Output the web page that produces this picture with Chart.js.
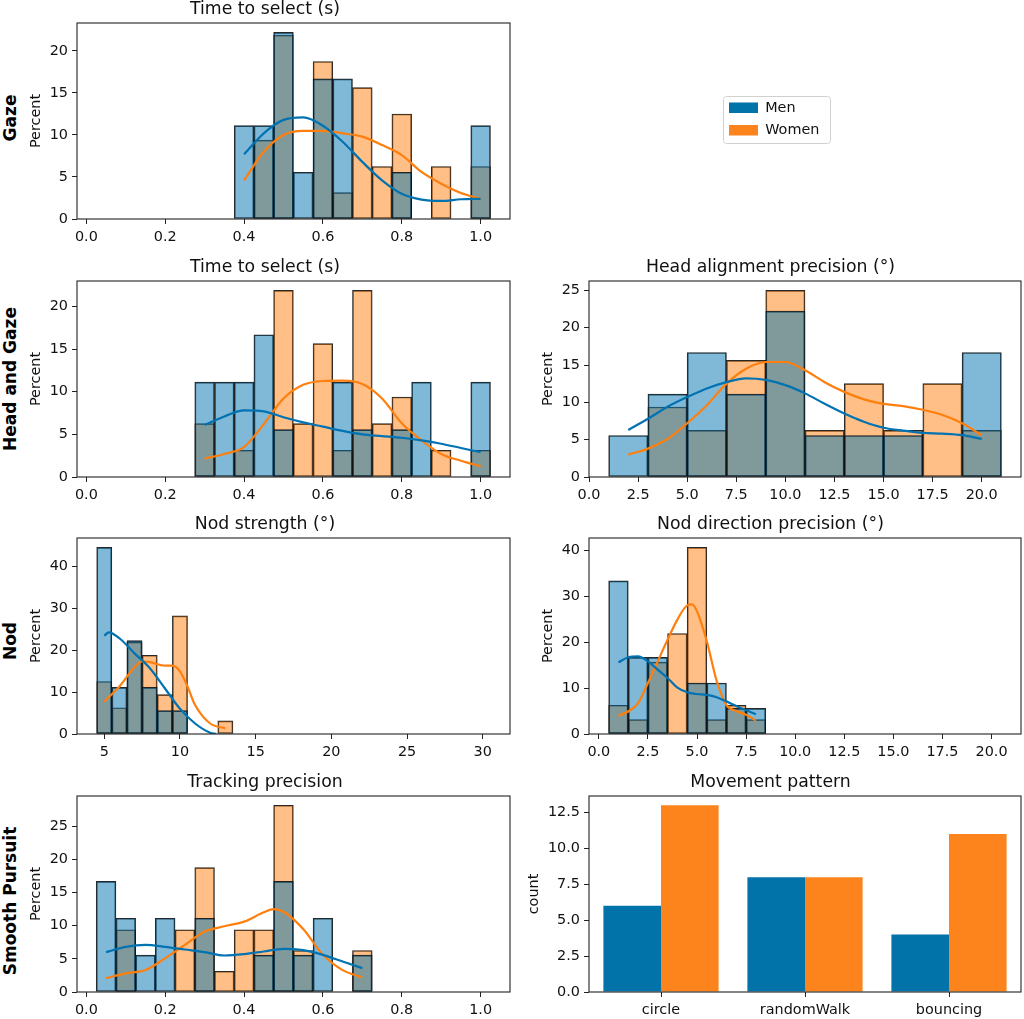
<!DOCTYPE html>
<html>
<head>
<meta charset="utf-8">
<script src="https://cdn.jsdelivr.net/npm/chart.js@4.4.0/dist/chart.umd.min.js"></script>
<style>
  html, body { margin:0; padding:0; background:#fff; width:1024px; height:1019px; overflow:hidden; }
  .box { position:absolute; }
  .rowlab { position:absolute; font: bold 17px "DejaVu Sans", sans-serif; color:#000; white-space:nowrap;
            transform: translate(-50%, -50%) rotate(-90deg); }
</style>
</head>
<body>
<div class="box" id="b_gaze"><canvas id="c_gaze"></canvas></div>
<div class="box" id="b_legend"><canvas id="c_legend"></canvas></div>
<div class="box" id="b_hgTime"><canvas id="c_hgTime"></canvas></div>
<div class="box" id="b_hgAlign"><canvas id="c_hgAlign"></canvas></div>
<div class="box" id="b_nodStr"><canvas id="c_nodStr"></canvas></div>
<div class="box" id="b_nodDir"><canvas id="c_nodDir"></canvas></div>
<div class="box" id="b_track"><canvas id="c_track"></canvas></div>
<div class="box" id="b_move"><canvas id="c_move"></canvas></div>

<script>
// ---------------- DATA ----------------
const seriesNames = ['Men', 'Women'];
const rowLabels = ['Gaze', 'Head and Gaze', 'Nod', 'Smooth Pursuit'];

// Gaze – Time to select (s)
const gazeTimeBins  = [0.40,0.45,0.50,0.55,0.60,0.65,0.70,0.75,0.80,0.85,0.90,0.95,1.00];
const gazeTimeMen   = [11.11,11.11,22.22,5.56,16.67,16.67,0,0,5.56,0,0,0,11.11];
const gazeTimeWomen = [0,9.38,21.88,0,18.75,3.13,15.63,6.25,12.5,0,6.25,0,6.25];
const gazeKdeX      = [0.40,0.45,0.50,0.55,0.60,0.65,0.70,0.75,0.80,0.85,0.90,0.95,1.00];
const gazeKdeMen    = [7.7,10.2,11.8,12.1,11.1,9.2,6.8,4.6,3.0,2.3,2.15,2.35,2.4];
const gazeKdeWomen  = [4.6,8.0,10.0,10.5,10.5,10.2,9.8,8.8,7.6,5.6,4.2,3.1,2.4];

// Head and Gaze – Time to select (s)
const hgTimeBins  = [0.30,0.35,0.40,0.45,0.50,0.55,0.60,0.65,0.70,0.75,0.80,0.85,0.90,0.95,1.00];
const hgTimeMen   = [11.11,11.11,11.11,16.67,5.56,0,0,11.11,5.56,0,5.56,11.11,0,0,11.11];
const hgTimeWomen = [6.25,0,3.13,0,21.88,6.25,15.63,3.13,21.88,6.25,9.38,0,3.13,0,3.13];
const hgKdeX      = [0.30,0.35,0.40,0.45,0.50,0.55,0.60,0.65,0.70,0.75,0.80,0.85,0.90,0.95,1.00];
const hgKdeMen    = [6.1,7.1,7.8,7.7,7.0,6.4,5.9,5.4,5.0,4.8,4.6,4.3,3.9,3.4,2.9];
const hgKdeWomen  = [2.15,2.7,3.5,6.2,9.2,10.8,11.25,11.3,10.9,9.2,6.3,4.3,2.7,1.9,1.25];

// Head and Gaze – Head alignment precision (°)
const alignBins  = [2,4,6,8,10,12,14,16,18,20];
const alignMen   = [5.56,11.11,16.67,11.11,22.22,5.56,5.56,5.56,0,16.67];
const alignWomen = [0,9.38,6.25,15.63,25,6.25,12.5,6.25,12.5,6.25];
const alignKdeX     = [2,3,4,5,6,7,8,9,10,11,12,13,14,15,16,17,18,19,20];
const alignKdeMen   = [6.3,7.8,9.4,10.7,11.85,12.7,13.2,13.0,12.3,11.2,9.8,8.5,7.4,6.6,6.2,5.9,5.8,5.6,5.1];
const alignKdeWomen = [3.0,3.8,5.1,7.2,9.6,12.5,14.5,15.4,15.4,14.3,12.7,11.4,10.4,9.8,9.5,9.0,8.3,7.2,5.6];

// Nod – Nod strength (°)
const nodStrBins  = [5,6,7,8,9,10,11,12,13];
const nodStrMen   = [44.44,11.11,22.22,11.11,5.56,5.56,0,0,0];
const nodStrWomen = [12.5,6.25,21.88,18.75,9.38,28.13,0,0,3.13];
const nodStrKdeMenX   = [5,5.3,6,7,8,9,10,11,12,12.4];
const nodStrKdeMen    = [23.4,24.2,22.8,19.2,15.7,10.9,6.0,2.5,0.3,0.05];
const nodStrKdeWomenX = [5,6,7,7.5,8,9,9.5,10,10.5,11,12,13];
const nodStrKdeWomen  = [7.7,11.3,15.9,17.3,17.1,16.3,16.3,14.9,11.3,6.9,2.5,1.35];

// Nod – Nod direction precision (°)
const nodDirBins  = [1,2,3,4,5,6,7,8];
const nodDirMen   = [33.33,16.67,16.67,0,11.11,11.11,5.56,5.56];
const nodDirWomen = [6.25,3.13,15.63,21.88,40.63,3.13,6.25,3.13];
const nodDirKdeMenX   = [1,1.5,2,2.5,3,3.5,4,4.5,5,5.5,6,6.5,7,7.5,8];
const nodDirKdeMen    = [15.6,16.7,16.9,15.8,14.0,12.2,10.1,9.1,8.7,8.5,8.0,7.1,6.1,5.2,4.3];
const nodDirKdeWomenX = [1,1.5,2,2.5,3,3.5,4,4.5,4.75,5,5.5,6,6.5,7,7.5,8];
const nodDirKdeWomen  = [4.0,4.9,6.7,11.1,15.8,20.5,24.9,28.0,28.2,26.7,20.2,11.6,6.3,5.0,4.2,2.9];

// Smooth Pursuit – Tracking precision
const trackBins  = [0.05,0.10,0.15,0.20,0.25,0.30,0.35,0.40,0.45,0.50,0.55,0.60,0.65,0.70];
const trackMen   = [16.67,11.11,5.56,11.11,0,11.11,0,0,5.56,16.67,5.56,11.11,0,5.56];
const trackWomen = [0,9.38,0,0,9.38,18.75,3.13,9.38,9.38,28.13,6.25,0,0,6.25];
const trackKdeMenX   = [0.05,0.10,0.15,0.20,0.25,0.30,0.35,0.40,0.45,0.50,0.55,0.60,0.65,0.70];
const trackKdeMen    = [6.0,6.8,7.1,6.8,6.4,6.0,5.5,5.7,6.1,6.5,6.3,5.6,4.6,3.6];
const trackKdeWomenX = [0.05,0.10,0.15,0.20,0.25,0.30,0.35,0.40,0.45,0.475,0.50,0.55,0.60,0.65,0.70];
const trackKdeWomen  = [2.1,2.8,3.3,5.1,7.1,9.1,9.9,10.6,12.0,12.5,12.1,9.5,5.6,3.3,2.2];

// Smooth Pursuit – Movement pattern (count)
const movementCategories = ['circle', 'randomWalk', 'bouncing'];
const movementMen   = [6, 8, 4];
const movementWomen = [13, 8, 11];

// Tick labels
const unitTicks   = [0, 0.2, 0.4, 0.6, 0.8, 1.0];
const unitLabels  = ['0.0', '0.2', '0.4', '0.6', '0.8', '1.0'];
const degTicks    = [0, 2.5, 5, 7.5, 10, 12.5, 15, 17.5, 20];
const degLabels   = ['0.0', '2.5', '5.0', '7.5', '10.0', '12.5', '15.0', '17.5', '20.0'];
const strTicks    = [5, 10, 15, 20, 25, 30];
const strLabels   = ['5', '10', '15', '20', '25', '30'];
const pct5Ticks   = [0, 5, 10, 15, 20];
const pct5Labels  = ['0', '5', '10', '15', '20'];
const pct25Ticks  = [0, 5, 10, 15, 20, 25];
const pct25Labels = ['0', '5', '10', '15', '20', '25'];
const pct40Ticks  = [0, 10, 20, 30, 40];
const pct40Labels = ['0', '10', '20', '30', '40'];
const countTicks  = [0, 2.5, 5, 7.5, 10, 12.5];
const countLabels = ['0.0', '2.5', '5.0', '7.5', '10.0', '12.5'];

// ---------------- STYLE / LAYOUT ----------------
const FONT = '"DejaVu Sans", sans-serif';
Chart.defaults.font.family = FONT;
Chart.defaults.color = '#111';
Chart.defaults.animation = false;

const TICK_SIZE = 14.4, TITLE_SIZE = 17.3;
const LINE_BLUE = '#0173b2', LINE_ORANGE = '#ff7f0e';
const FILL_BLUE = 'rgba(1,115,178,0.5)', FILL_ORANGE = 'rgba(255,127,14,0.5)';
const BAR_BLUE = '#0173a8', BAR_ORANGE = '#fd841c';
const EDGE = 'rgba(15,15,15,0.9)';

const ROW_TOPS = [23, 281, 538, 796];
const PLOT_H = 196, TITLE_BLOCK = 24, XAXIS_H = 27;
const COLS = [
  { left: 20,  width: 498, yW: 57, padR: 8 },
  { left: 520, width: 504, yW: 69, padR: 3 }
];

const framePlugin = {
  id: 'frame',
  afterDraw(chart) {
    const a = chart.chartArea, ctx = chart.ctx;
    ctx.save();
    ctx.strokeStyle = '#222';
    ctx.lineWidth = 1.1;
    ctx.strokeRect(a.left, a.top, a.right - a.left, a.bottom - a.top);
    ctx.restore();
  }
};

function place(boxId, col, row) {
  const c = COLS[col];
  const b = document.getElementById(boxId);
  b.style.left = c.left + 'px';
  b.style.top = (ROW_TOPS[row] - TITLE_BLOCK) + 'px';
  b.style.width = c.width + 'px';
  b.style.height = (TITLE_BLOCK + PLOT_H + XAXIS_H) + 'px';
}

function zip(xs, ys) { return xs.map((x, i) => ({ x: x, y: ys[i] })); }
function setTicks(values) { return axis => { axis.ticks = values.map(v => ({ value: v })); }; }

function commonAxis(extra) {
  return Object.assign({
    grid: { drawOnChartArea: false, drawTicks: true, tickLength: 5, color: '#222', lineWidth: 1 },
    border: { display: false }
  }, extra);
}

function baseOptions(title, col, yTitle, yTitleCenter, xScale, yScale) {
  const c = COLS[col];
  const yTitlePad = yTitleCenter - TICK_SIZE * 1.2 / 2;
  return {
    responsive: true,
    maintainAspectRatio: false,
    animation: false,
    layout: { padding: { left: 0, right: c.padR, top: 0, bottom: 0 } },
    plugins: {
      legend: { display: false },
      tooltip: { enabled: false },
      title: { display: true, text: title, color: '#111',
               font: { size: TITLE_SIZE, weight: 'normal', family: FONT },
               padding: { top: 0, bottom: TITLE_BLOCK - TITLE_SIZE * 1.2 } }
    },
    scales: {
      x: Object.assign(xScale, { afterFit: s => { s.height = XAXIS_H; } }),
      y: Object.assign(yScale, {
        afterFit: s => { s.width = c.yW; },
        title: { display: true, text: yTitle, color: '#111', font: { size: TICK_SIZE, family: FONT },
                 padding: { top: yTitlePad, bottom: 0 } }
      })
    }
  };
}

function histogram(p) {
  place('b_' + p.id, p.col, p.row);
  const xScale = commonAxis({
    type: 'linear', min: p.xMin, max: p.xMax, offset: false,
    afterBuildTicks: setTicks(p.xTicks),
    ticks: { autoSkip: false, maxRotation: 0, minRotation: 0, padding: 5, font: { size: TICK_SIZE },
             callback: (v, i) => p.xLabels[i] }
  });
  xScale.grid.offset = false;
  const yScale = commonAxis({
    type: 'linear', min: 0, max: p.yMax,
    afterBuildTicks: setTicks(p.yTicks),
    ticks: { autoSkip: false, padding: 4, font: { size: TICK_SIZE }, callback: (v, i) => p.yLabels[i] }
  });
  const barCommon = { grouped: false, barPercentage: 1, categoryPercentage: 1,
                      borderColor: EDGE, borderWidth: 1, borderSkipped: false };
  new Chart(document.getElementById('c_' + p.id), {
    type: 'bar',
    data: {
      datasets: [
        { type: 'line', label: seriesNames[0] + ' KDE', data: zip(p.kmx, p.kmy), borderColor: LINE_BLUE,
          borderWidth: 2.2, pointRadius: 0, cubicInterpolationMode: 'monotone', fill: false, order: 0 },
        { type: 'line', label: seriesNames[1] + ' KDE', data: zip(p.kwx, p.kwy), borderColor: LINE_ORANGE,
          borderWidth: 2.2, pointRadius: 0, cubicInterpolationMode: 'monotone', fill: false, order: 0 },
        Object.assign({ label: seriesNames[0], data: zip(p.bins, p.men), backgroundColor: FILL_BLUE, order: 1 }, barCommon),
        Object.assign({ label: seriesNames[1], data: zip(p.bins, p.women), backgroundColor: FILL_ORANGE, order: 2 }, barCommon)
      ]
    },
    options: baseOptions(p.title, p.col, 'Percent', p.yTitleCenter, xScale, yScale),
    plugins: [framePlugin]
  });
}

histogram({ id: 'gaze', col: 0, row: 0, title: 'Time to select (s)', yTitleCenter: 16,
  bins: gazeTimeBins, men: gazeTimeMen, women: gazeTimeWomen,
  kmx: gazeKdeX, kmy: gazeKdeMen, kwx: gazeKdeX, kwy: gazeKdeWomen,
  xMin: -0.0237, xMax: 1.0745, xTicks: unitTicks, xLabels: unitLabels,
  yMax: 23.33, yTicks: pct5Ticks, yLabels: pct5Labels });

histogram({ id: 'hgTime', col: 0, row: 1, title: 'Time to select (s)', yTitleCenter: 16,
  bins: hgTimeBins, men: hgTimeMen, women: hgTimeWomen,
  kmx: hgKdeX, kmy: hgKdeMen, kwx: hgKdeX, kwy: hgKdeWomen,
  xMin: -0.0237, xMax: 1.0745, xTicks: unitTicks, xLabels: unitLabels,
  yMax: 22.97, yTicks: pct5Ticks, yLabels: pct5Labels });

histogram({ id: 'hgAlign', col: 1, row: 1, title: 'Head alignment precision (°)', yTitleCenter: 28.3,
  bins: alignBins, men: alignMen, women: alignWomen,
  kmx: alignKdeX, kmy: alignKdeMen, kwx: alignKdeX, kwy: alignKdeWomen,
  xMin: 0, xMax: 22, xTicks: degTicks, xLabels: degLabels,
  yMax: 26.25, yTicks: pct25Ticks, yLabels: pct25Labels });

histogram({ id: 'nodStr', col: 0, row: 2, title: 'Nod strength (°)', yTitleCenter: 16,
  bins: nodStrBins, men: nodStrMen, women: nodStrWomen,
  kmx: nodStrKdeMenX, kmy: nodStrKdeMen, kwx: nodStrKdeWomenX, kwy: nodStrKdeWomen,
  xMin: 3.2, xMax: 31.8, xTicks: strTicks, xLabels: strLabels,
  yMax: 46.67, yTicks: pct40Ticks, yLabels: pct40Labels });

histogram({ id: 'nodDir', col: 1, row: 2, title: 'Nod direction precision (°)', yTitleCenter: 28.3,
  bins: nodDirBins, men: nodDirMen, women: nodDirWomen,
  kmx: nodDirKdeMenX, kmy: nodDirKdeMen, kwx: nodDirKdeWomenX, kwy: nodDirKdeWomen,
  xMin: -0.5, xMax: 21.5, xTicks: degTicks, xLabels: degLabels,
  yMax: 42.66, yTicks: pct40Ticks, yLabels: pct40Labels });

histogram({ id: 'track', col: 0, row: 3, title: 'Tracking precision', yTitleCenter: 16,
  bins: trackBins, men: trackMen, women: trackWomen,
  kmx: trackKdeMenX, kmy: trackKdeMen, kwx: trackKdeWomenX, kwy: trackKdeWomen,
  xMin: -0.0237, xMax: 1.0745, xTicks: unitTicks, xLabels: unitLabels,
  yMax: 29.53, yTicks: pct25Ticks, yLabels: pct25Labels });

// Movement pattern bar chart
(function () {
  place('b_move', 1, 3);
  const xScale = commonAxis({
    type: 'category', offset: true,
    ticks: { autoSkip: false, maxRotation: 0, minRotation: 0, padding: 5, font: { size: TICK_SIZE } }
  });
  xScale.grid.offset = false;
  const yScale = commonAxis({
    type: 'linear', min: 0, max: 13.65,
    afterBuildTicks: setTicks(countTicks),
    ticks: { autoSkip: false, padding: 4, font: { size: TICK_SIZE }, callback: (v, i) => countLabels[i] }
  });
  new Chart(document.getElementById('c_move'), {
    type: 'bar',
    data: {
      labels: movementCategories,
      datasets: [
        { label: seriesNames[0], data: movementMen, backgroundColor: BAR_BLUE, borderWidth: 0,
          categoryPercentage: 0.8, barPercentage: 1 },
        { label: seriesNames[1], data: movementWomen, backgroundColor: BAR_ORANGE, borderWidth: 0,
          categoryPercentage: 0.8, barPercentage: 1 }
      ]
    },
    options: baseOptions('Movement pattern', 1, 'count', 14, xScale, yScale),
    plugins: [framePlugin]
  });
})();

// Legend (top right). The canvas is wide because Chart.js gives a side legend at most
// a quarter of the width when the (hidden) y scale is also a side box.
(function () {
  const b = document.getElementById('b_legend');
  b.style.left = '721px'; b.style.top = '89px'; b.style.width = '460px'; b.style.height = '60px';
  const legendFrame = {
    id: 'legendFrame',
    beforeDraw(chart) {
      const ctx = chart.ctx;
      ctx.save();
      ctx.fillStyle = 'rgba(255,255,255,0.8)';
      ctx.strokeStyle = '#d0d0d0';
      ctx.lineWidth = 1;
      ctx.beginPath();
      ctx.roundRect(2.5, 7.5, 107, 47, 3);
      ctx.fill();
      ctx.stroke();
      ctx.restore();
    }
  };
  new Chart(document.getElementById('c_legend'), {
    type: 'bar',
    data: {
      labels: [],
      datasets: [
        { label: seriesNames[0], data: [], backgroundColor: BAR_BLUE, borderWidth: 0 },
        { label: seriesNames[1], data: [], backgroundColor: BAR_ORANGE, borderWidth: 0 }
      ]
    },
    options: {
      responsive: true, maintainAspectRatio: false, animation: false,
      layout: { padding: 0 },
      scales: { x: { display: false }, y: { display: false } },
      plugins: {
        tooltip: { enabled: false },
        legend: {
          display: true, position: 'left', align: 'center',
          labels: { boxWidth: 29, boxHeight: 10.5, padding: 8, color: '#111',
                    font: { size: TICK_SIZE, family: FONT } }
        }
      }
    },
    plugins: [legendFrame]
  });
})();

// Row labels
const rowLabelCenters = [118, 379, 641, 901];
rowLabels.forEach((t, i) => {
  const d = document.createElement('div');
  d.className = 'rowlab';
  d.textContent = t;
  d.style.left = '10px';
  d.style.top = rowLabelCenters[i] + 'px';
  document.body.appendChild(d);
});
</script>
</body>
</html>
